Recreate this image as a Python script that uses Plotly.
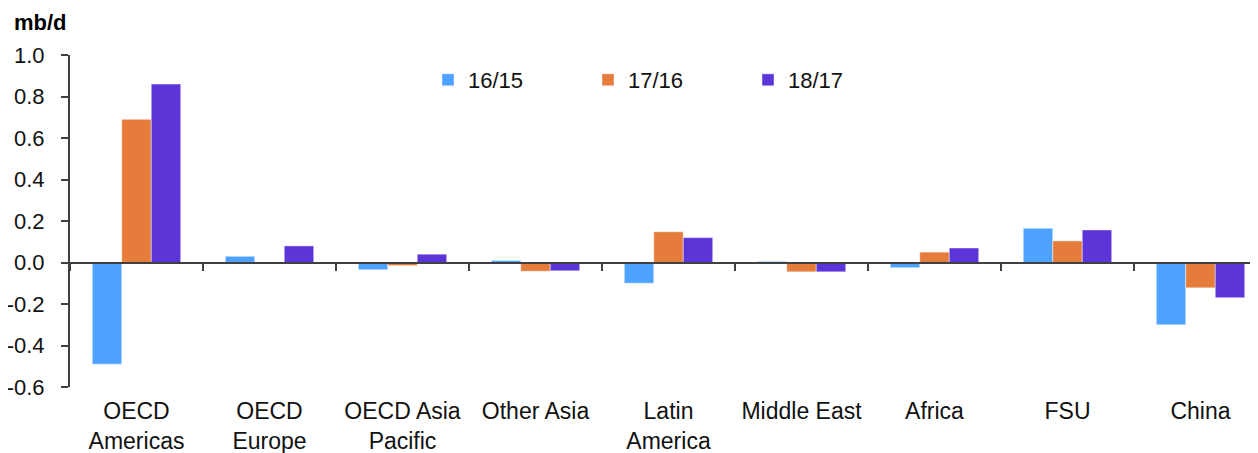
import plotly.graph_objects as go

categories = ["OECD<br>Americas", "OECD<br>Europe", "OECD Asia<br>Pacific", "Other Asia",
              "Latin<br>America", "Middle East", "Africa", "FSU", "China"]
s_16_15 = [-0.49, 0.03, -0.035, 0.01, -0.10, 0.005, -0.025, 0.165, -0.30]
s_17_16 = [0.69, -0.005, -0.015, -0.042, 0.148, -0.045, 0.05, 0.104, -0.122]
s_18_17 = [0.86, 0.08, 0.04, -0.04, 0.12, -0.045, 0.07, 0.157, -0.17]
series_names = ["16/15", "17/16", "18/17"]
colors = ["#4DA3FF", "#E67C3C", "#5C35D9"]
y_tickvals = [-0.6, -0.4, -0.2, 0.0, 0.2, 0.4, 0.6, 0.8, 1.0]
y_ticktext = ["-0.6", "-0.4", "-0.2", "0.0", "0.2", "0.4", "0.6", "0.8", "1.0"]

FONT = "Liberation Sans, Arial, sans-serif"
AXIS_COLOR = "#404040"
TXT = "#111111"

fig = go.Figure()
for name, vals, col in zip(series_names, [s_16_15, s_17_16, s_18_17], colors):
    fig.add_trace(go.Bar(x=categories, y=vals, name=name, marker_color=col,
                         marker_line=dict(color="rgba(255,255,255,0.45)", width=1)))

# helper trace for the zero-line axis carrying the boundary tick marks
fig.add_trace(go.Scatter(x=categories, y=[0] * len(categories), xaxis="x2", mode="markers",
                         marker=dict(opacity=0), showlegend=False, hoverinfo="skip"))

# page body has an 8px margin, so the figure is sized/offset accordingly
W, H = 1250, 445
ml, mr, mt, mb = 62, 0, 47, 66
plot_w = W - ml - mr
plot_h = H - mt - mb
cat_px = 133.0
x_end = -0.5 + plot_w / cat_px

fig.update_layout(
    width=W, height=H,
    margin=dict(l=ml, r=mr, t=mt, b=mb, autoexpand=False),
    plot_bgcolor="white", paper_bgcolor="white",
    barmode="group", bargap=0.335, bargroupgap=0,
    font=dict(family=FONT, size=20, color=TXT),
    showlegend=True,
    legend=dict(orientation="h", x=(428 - 8 - ml) / plot_w, xanchor="left",
                y=1 - (80 - 8 - mt) / plot_h, yanchor="middle",
                entrywidth=115, entrywidthmode="pixels", itemwidth=30,
                font=dict(family=FONT, size=22, color=TXT),
                bgcolor="rgba(0,0,0,0)", traceorder="normal"),
    xaxis=dict(type="category", categoryorder="array", categoryarray=categories,
               range=[-0.5, x_end], showline=False, ticks="", showgrid=False,
               zeroline=False, ticklabelstandoff=8, automargin=False,
               tickfont=dict(family=FONT, size=23, color=TXT)),
    xaxis2=dict(type="category", categoryorder="array", categoryarray=categories,
                range=[-0.5, x_end], overlaying="x", anchor="free", position=0.375,
                showline=True, linecolor=AXIS_COLOR, linewidth=2, automargin=False,
                ticks="outside", tickson="boundaries", ticklen=7, tickwidth=2,
                tickcolor=AXIS_COLOR, showticklabels=False, showgrid=False, zeroline=False),
    yaxis=dict(range=[-0.6, 1.0], tickvals=y_tickvals, ticktext=y_ticktext,
               showline=True, linecolor=AXIS_COLOR, linewidth=2, automargin=False,
               ticks="outside", ticklen=7, tickwidth=2, tickcolor=AXIS_COLOR,
               showgrid=False, zeroline=False, ticklabelstandoff=12,
               tickfont=dict(family=FONT, size=22, color=TXT)),
)

fig.add_annotation(text="<b>mb/d</b>", xref="paper", yref="paper",
                   x=-(ml - 4) / plot_w, y=1 + (mt - 14) / plot_h,
                   xanchor="left", yanchor="middle", showarrow=False,
                   font=dict(family=FONT, size=22, color="#000000"))

fig.write_html("out.html")
